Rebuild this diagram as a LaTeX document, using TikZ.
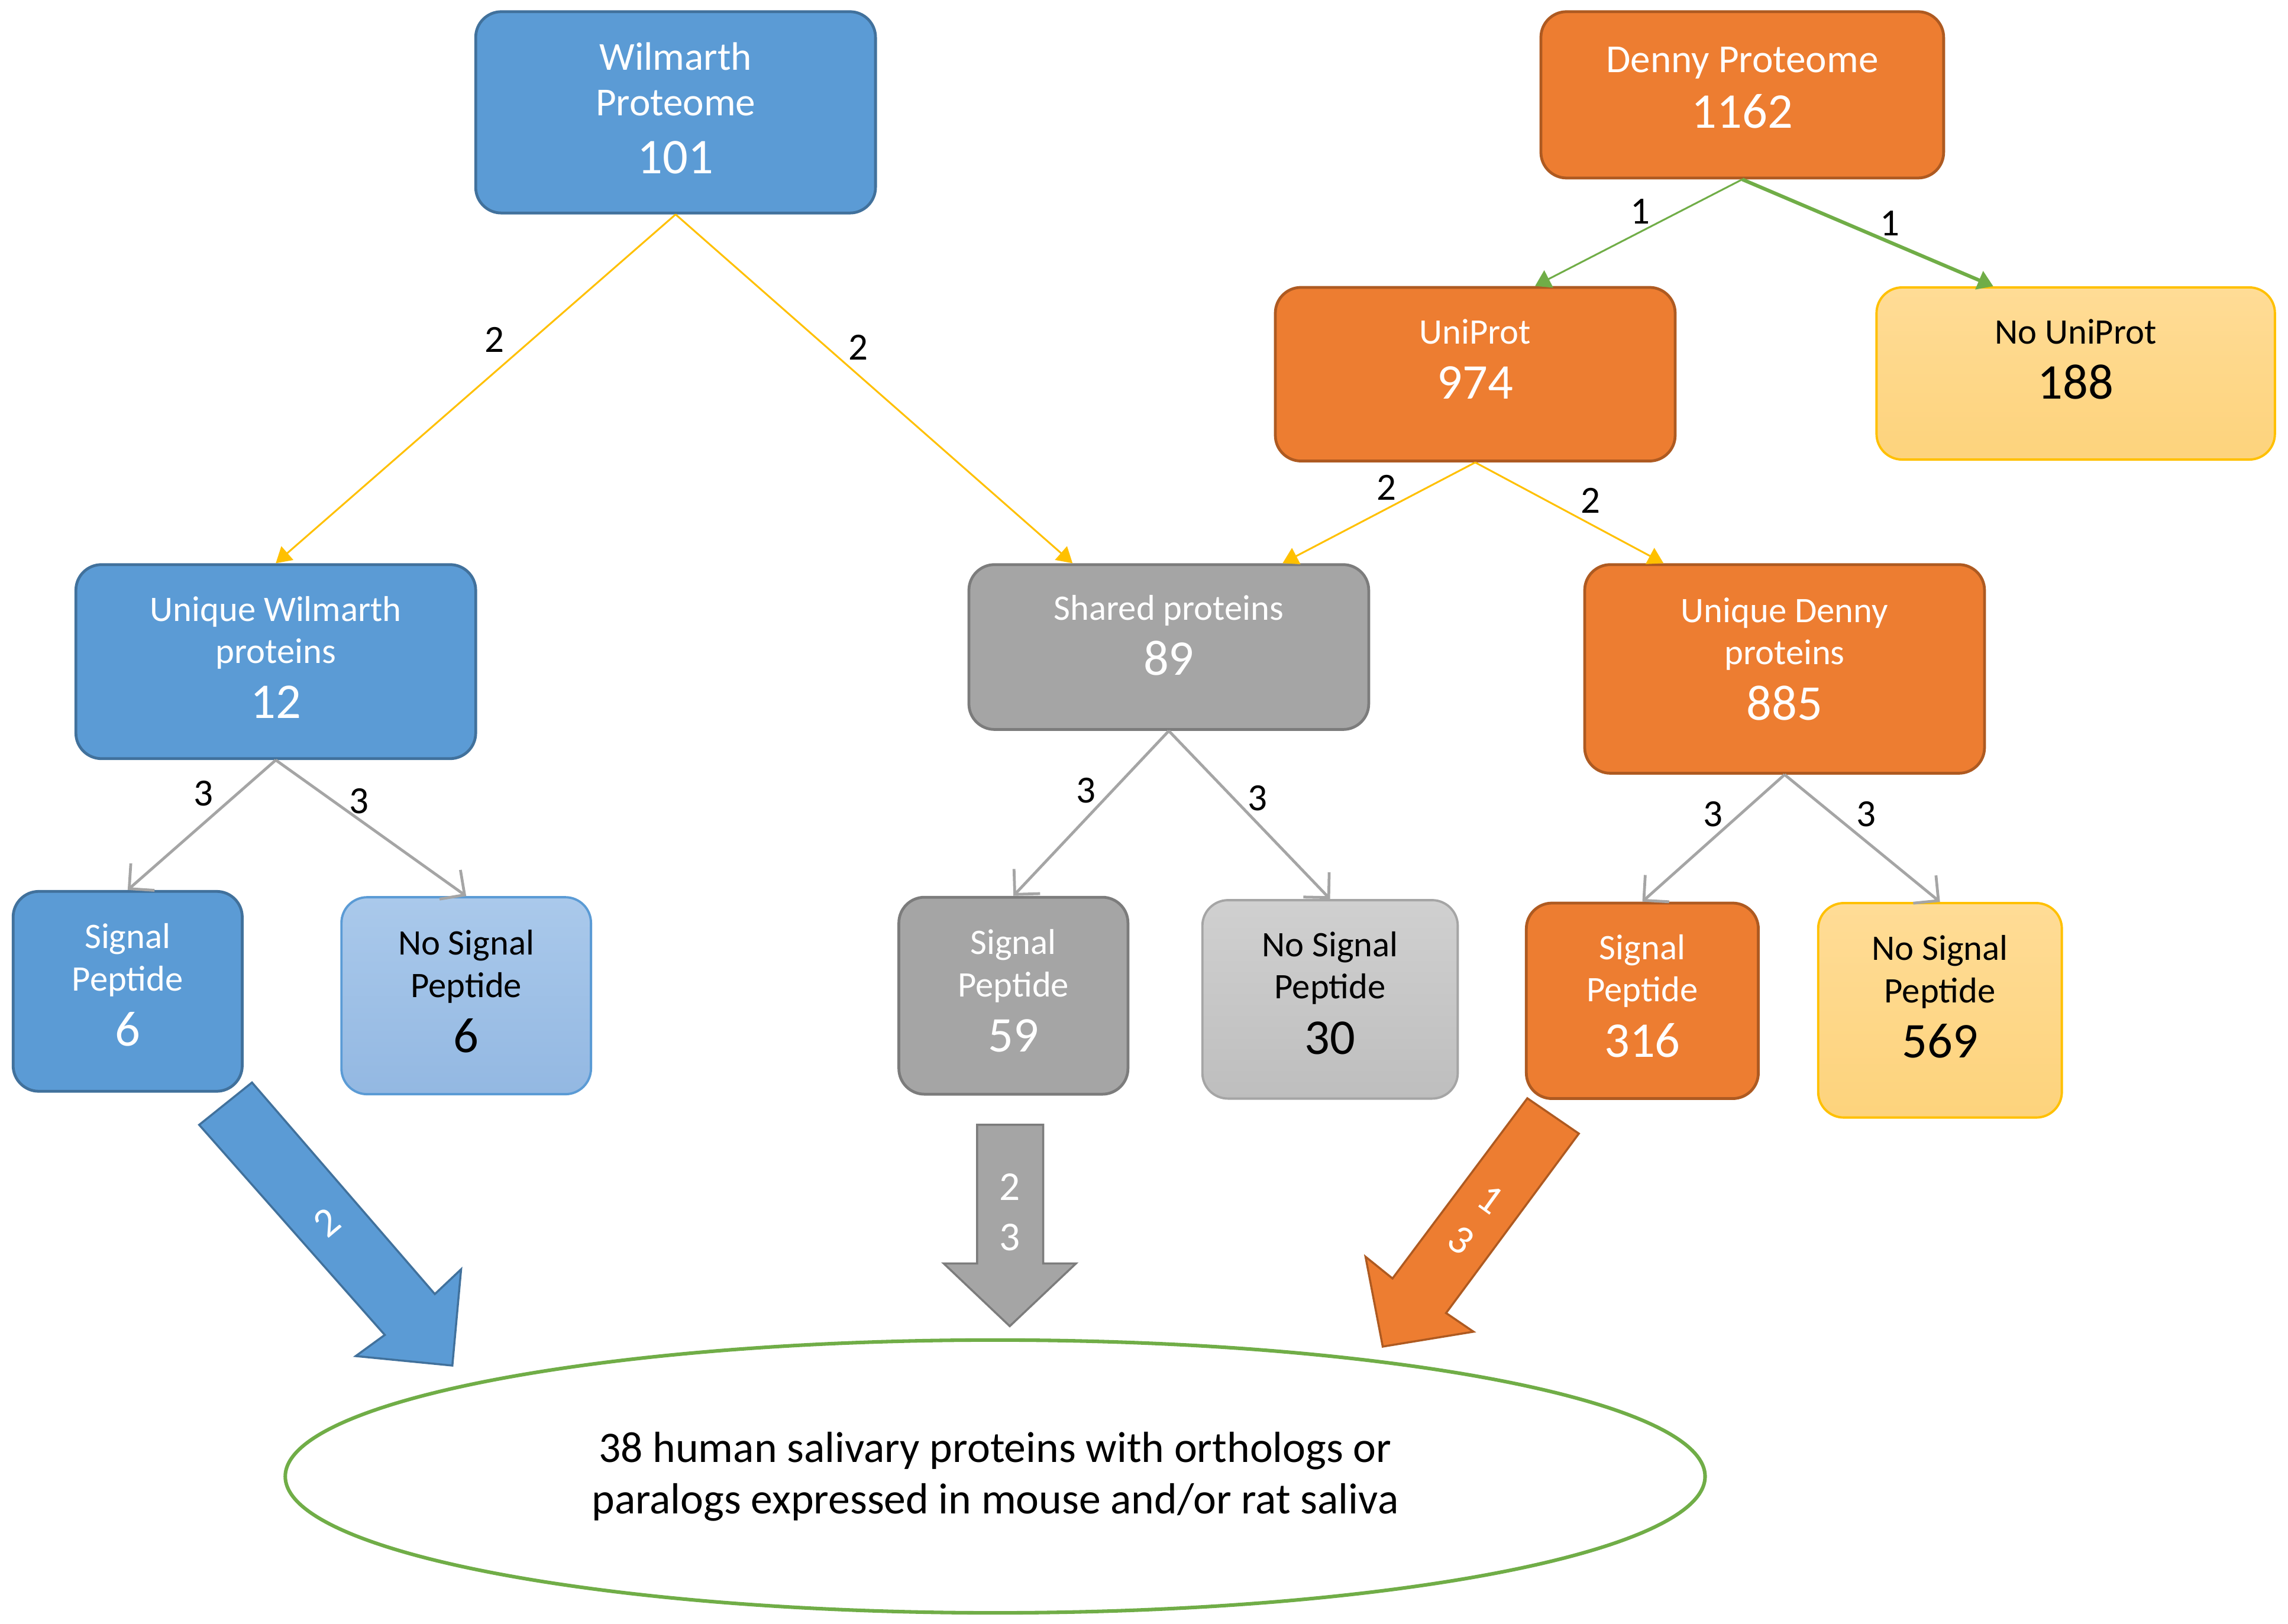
\documentclass[tikz,border=0pt]{standalone}
\usepackage{fontspec}
\setmainfont{Carlito}
\usetikzlibrary{arrows.meta,shapes.geometric}

\definecolor{wblue}{HTML}{5B9BD5}
\definecolor{wblueline}{HTML}{41719C}
\definecolor{dorange}{HTML}{ED7D31}
\definecolor{dorangeline}{HTML}{AE5A21}
\definecolor{sgray}{HTML}{A5A5A5}
\definecolor{sgrayline}{HTML}{7C7C7C}
\definecolor{paleblueTop}{HTML}{AAC9EB}
\definecolor{paleblueBot}{HTML}{93B8E2}
\definecolor{palegrayTop}{HTML}{D0D0D0}
\definecolor{palegrayBot}{HTML}{BEBEBE}
\definecolor{paleyelTop}{HTML}{FFDC96}
\definecolor{paleyelBot}{HTML}{FDD37C}
\definecolor{goldline}{HTML}{FFC000}
\definecolor{okgreen}{HTML}{70AD47}

\newcommand{\boxfont}{\fontsize{14pt}{16.5pt}\selectfont}
\newcommand{\headfont}{\fontsize{15.5pt}{17.6pt}\selectfont}
\newcommand{\numfont}{\fontsize{19.5pt}{23pt}\selectfont}
\newcommand{\labelfont}{\fontsize{15pt}{18pt}\selectfont}
\newcommand{\blockfont}{\fontsize{16pt}{19.6pt}\selectfont}
\newcommand{\ovalfont}{\fontsize{17pt}{20pt}\selectfont}

\tikzset{
  box/.style={rounded corners=10pt, line width=1.1pt, align=center, inner sep=2pt,
    font=\boxfont, text depth=0.12cm},
  boxsize/.style 2 args={minimum width=#1*0.02cm, minimum height=#2*0.02cm},
  bluebox/.style={box, fill=wblue, draw=wblueline, text=white},
  orangebox/.style={box, fill=dorange, draw=dorangeline, text=white},
  graybox/.style={box, fill=sgray, draw=sgrayline, text=white},
  paleblue/.style={box, top color=paleblueTop, bottom color=paleblueBot, draw=wblue, line width=0.9pt, text=black},
  palegray/.style={box, top color=palegrayTop, bottom color=palegrayBot, draw=sgray, line width=0.9pt, text=black},
  paleyellow/.style={box, top color=paleyelTop, bottom color=paleyelBot, draw=goldline, line width=0.9pt, text=black},
  yellowarrow/.style={color=goldline, line width=0.7pt, -{Triangle[length=6pt,width=7pt]}},
  greenarrow/.style={color=okgreen, line width=0.7pt, -{Triangle[length=6pt,width=7.5pt]}},
  grayarrow/.style={color=sgray, line width=1.1pt, -{Straight Barb[length=7pt,width=14pt]}},
  elabel/.style={font=\labelfont, text=black, inner sep=0pt, midway},
  blocktext/.style={font=\blockfont, text=white, align=center, inner sep=0pt},
}

\begin{document}
\begin{tikzpicture}[x=0.02cm, y=-0.02cm]
  \useasboundingbox (0,0) rectangle (1568,1113);

  % Proteomes
  \node[bluebox, boxsize={274}{138}, font=\headfont] (wil) at (463,77) {Wilmarth\\Proteome\\[5pt]{\numfont 101}};
  \node[orangebox, boxsize={276}{114}, font=\headfont, text depth=0.2cm] (den) at (1194,65) {Denny Proteome\\[4pt]{\numfont 1162}};

  % UniProt split
  \node[orangebox, boxsize={274}{119}, text depth=0.42cm] (uni) at (1011,256.5) {UniProt\\[5pt]{\numfont 974}};
  \node[paleyellow, boxsize={273}{118}, text depth=0.4cm] (nouni) at (1422.5,256) {No UniProt\\[5pt]{\numfont 188}};

  % Unique / shared
  \node[bluebox, boxsize={274}{133}] (uw) at (189,453.5) {Unique Wilmarth\\proteins\\[5pt]{\numfont 12}};
  \node[graybox, boxsize={274}{113}, text depth=0.32cm] (sh) at (801,443.5) {Shared proteins\\[5pt]{\numfont 89}};
  \node[orangebox, boxsize={274}{143}, text depth=0.28cm] (ud) at (1223,458.5) {Unique Denny\\proteins\\[5pt]{\numfont 885}};

  % Signal peptide
  \node[bluebox, boxsize={157}{137}, text depth=0.18cm] (sp6) at (87.5,679.5) {Signal\\Peptide\\[5pt]{\numfont 6}};
  \node[paleblue, boxsize={171}{135}] (nsp6) at (319.5,682.5) {No Signal\\Peptide\\[5pt]{\numfont 6}};
  \node[graybox, boxsize={157}{135}, text depth=0.14cm] (sp59) at (694.5,682.5) {Signal\\Peptide\\[5pt]{\numfont 59}};
  \node[palegray, boxsize={175}{136}, text depth=0.18cm] (nsp30) at (911.5,685) {No Signal\\Peptide\\[5pt]{\numfont 30}};
  \node[orangebox, boxsize={159}{134}, text depth=0.14cm] (sp316) at (1125.5,686) {Signal\\Peptide\\[5pt]{\numfont 316}};
  \node[paleyellow, boxsize={167}{147}, text depth=0.38cm] (nsp569) at (1329.5,692.5) {No Signal\\Peptide\\[5pt]{\numfont 569}};

  % Result
  \node[ellipse, draw=okgreen, line width=1.4pt, minimum width=973*0.02cm, minimum height=187*0.02cm,
    align=center, font=\ovalfont, inner sep=0pt] (sum) at (682,1012)
    {38 human salivary proteins with orthologs or\\paralogs expressed in mouse and/or rat saliva};

  % Connectors
  \draw[yellowarrow] (wil.south) -- (uw.north) node[elabel, shift={(13,-33.5)}] (la) {2};
  \draw[yellowarrow] (wil.south) -- ([xshift=-1.32cm]sh.north) node[elabel, shift={(-11,-28.5)}] (lb) {2};
  \draw[greenarrow] (den.south) -- ([xshift=0.82cm]uni.north) node[elabel, shift={(1,-14.5)}] (lc) {1};
  \draw[greenarrow, line width=1.4pt] (den.south) -- ([xshift=-1.13cm]nouni.north) node[elabel, shift={(15,-6.5)}] (ld) {1};
  \draw[yellowarrow] (uni.south) -- ([xshift=1.56cm]sh.north) node[elabel, shift={(5,-17.5)}] (le) {2};
  \draw[yellowarrow] (uni.south) -- ([xshift=-1.66cm]ud.north) node[elabel, shift={(14.5,-8.5)}] (lf) {2};
  \draw[grayarrow] (uw.south) -- (sp6.north) node[elabel, shift={(1,-21.5)}] (lg) {3};
  \draw[grayarrow] (uw.south) -- (nsp6.north) node[elabel, shift={(-8,-18.5)}] (lh) {3};
  \draw[grayarrow] (sh.south) -- (sp59.north) node[elabel, shift={(-3.5,-15.5)}] (li) {3};
  \draw[grayarrow] (sh.south) -- (nsp30.north) node[elabel, shift={(5.5,-11.5)}] (lj) {3};
  \draw[grayarrow] (ud.south) -- (sp316.north) node[elabel, shift={(-0.5,-16.5)}] (lk) {3};
  \draw[grayarrow] (ud.south) -- (nsp569.north) node[elabel, shift={(2.5,-16.5)}] (ll) {3};

  % Block arrows into the result
  \draw[fill=wblue, draw=wblueline, line width=0.8pt] (172.7,742) -- (298,887) -- (316,870) -- (310,936)
    -- (243.8,929.5) -- (263.7,915) -- (136.5,771) -- cycle;
  \node[blocktext, rotate=40] (bw) at (224,838) {2};
  \draw[fill=sgray, draw=sgrayline, line width=0.8pt] (669.6,771) -- (714.9,771) -- (714.9,866) -- (737.4,866)
    -- (692,909) -- (646.7,866) -- (669.6,866) -- cycle;
  \node[blocktext] (bs) at (692,831) {2\\3};
  \draw[fill=dorange, draw=dorangeline, line width=0.8pt] (1046.7,752.8) -- (1082,777) -- (991,900) -- (1009.8,912.8)
    -- (947.6,923) -- (935.8,861.4) -- (954.3,876.3) -- cycle;
  \node[blocktext, rotate=-36] (bd) at (1011.3,836) {1\\3};
\end{tikzpicture}
\end{document}
